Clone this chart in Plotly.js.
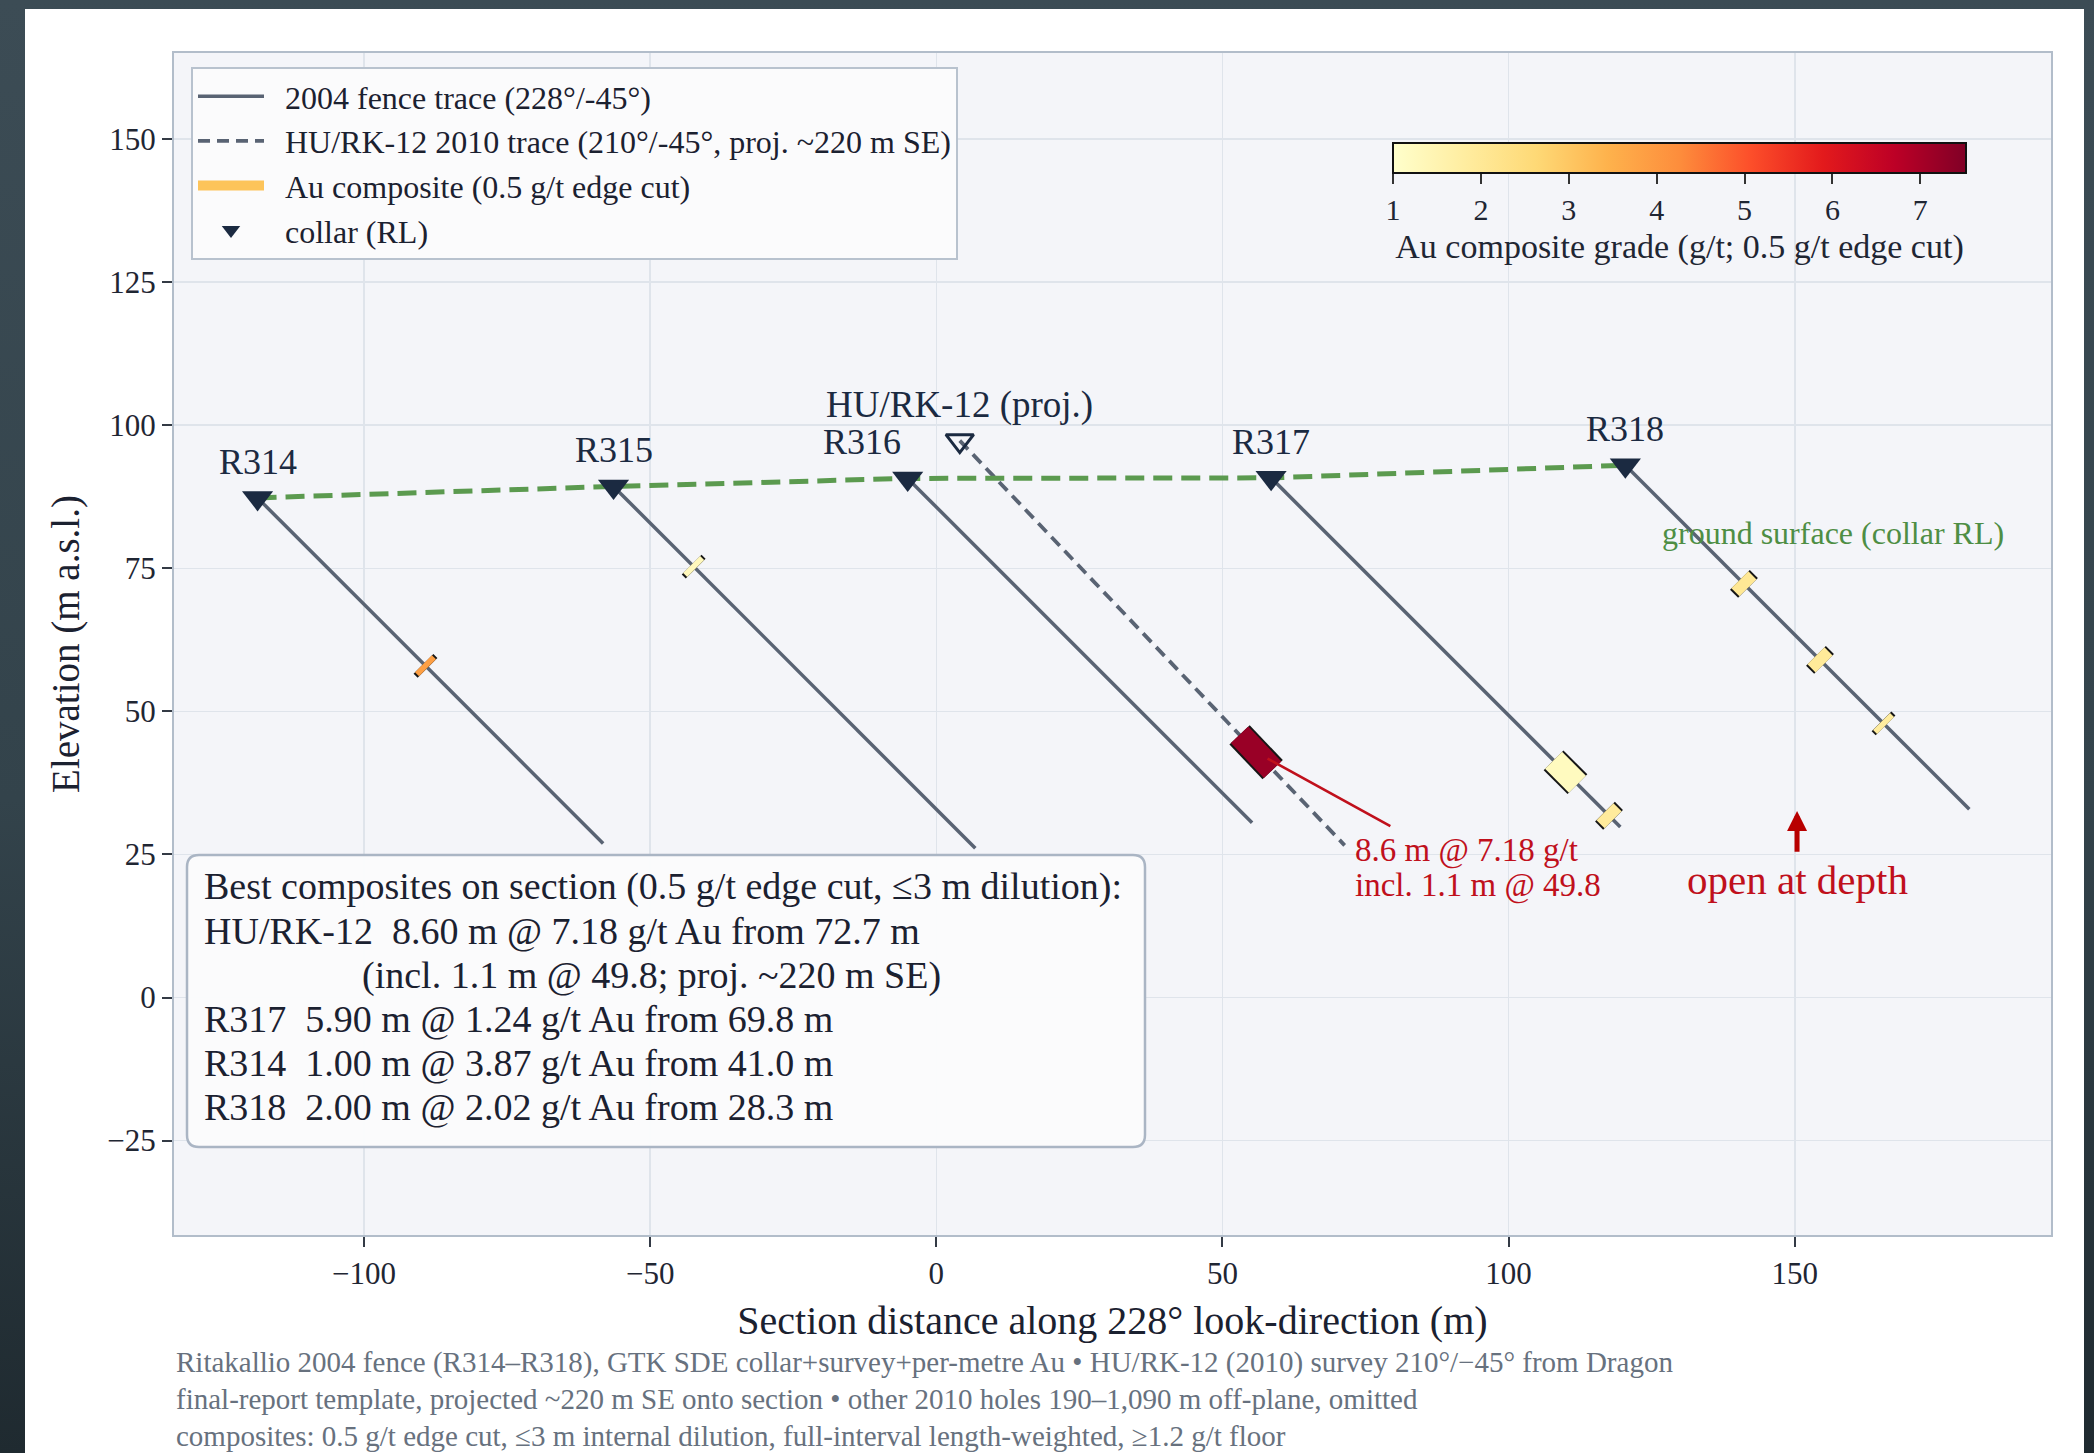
<!DOCTYPE html>
<html><head><meta charset="utf-8">
<script src="https://cdn.plot.ly/plotly-3.0.1.min.js"></script>
<style>
html,body{margin:0;padding:0;width:2094px;height:1453px;overflow:hidden;background:linear-gradient(180deg,#3c4c55 0%,#33434b 55%,#1f2a30 100%);}
#card{position:absolute;left:25px;top:9px;width:2059px;height:1444px;background:#ffffff;}
#chart{width:2059px;height:1444px;}
</style></head>
<body><div id="card"><div id="chart"></div></div>
<script>
// ---------------- data ----------------
const sectionAzimuth = 228;

const holeNames    = ['R314', 'R315', 'R316', 'R317', 'R318'];
const holeSectionX = [-118.6, -56.4, -5.0, 58.5, 120.4];
const holeCollarRL = [87.3, 89.3, 90.7, 90.8, 93.0];
const holeEOH      = [85.4, 89.4, 85.1, 86.3, 85.0];
const holeAzimuth  = [228, 228, 228, 228, 228];
const holeDip      = [-45, -45, -45, -45, -45];

const huName     = 'HU/RK-12';
const huSectionX = 4.1;
const huCollarRL = 97.3;
const huEOH      = 100.0;
const huAzimuth  = 210;
const huDip      = -45;

const compHole  = ['R314', 'R315', 'HU/RK-12', 'R317', 'R317', 'R318', 'R318', 'R318'];
const compFrom  = [41.0, 19.3, 72.7, 69.8, 82.5, 28.3, 47.1, 63.3];
const compTo    = [42.0, 20.3, 81.3, 75.7, 84.5, 30.3, 49.1, 64.3];
const compGrade = [3.87, 1.30, 7.18, 1.24, 1.90, 2.02, 1.95, 1.85];

const bestComposites = [2, 3, 0, 5];   // indices into the composite arrays, in box order
const bestNote = '(incl. 1.1 m @ 49.8; proj. ~220 m SE)';
const huInclude = 'incl. 1.1 m @ 49.8';

const gradeTicks = [1, 2, 3, 4, 5, 6, 7];
const gradeMin = 1, gradeMax = 7.52;

const legendNames = ['2004 fence trace (228\u00b0/-45\u00b0)',
                     'HU/RK-12 2010 trace (210\u00b0/-45\u00b0, proj. ~220 m SE)',
                     'Au composite (0.5 g/t edge cut)',
                     'collar (RL)'];

const captionLines = [
  'Ritakallio 2004 fence (R314\u2013R318), GTK SDE collar+survey+per-metre Au \u2022 HU/RK-12 (2010) survey 210\u00b0/\u221245\u00b0 from Dragon',
  'final-report template, projected ~220 m SE onto section \u2022 other 2010 holes 190\u20131,090 m off-plane, omitted',
  'composites: 0.5 g/t edge cut, \u22643 m internal dilution, full-interval length-weighted, \u22651.2 g/t floor'
];

// ---------------- styling ----------------
const FONT = 'Liberation Serif, DejaVu Serif, serif';
const NAVY = '#1b2a41';
const TRACE = '#596373';
const GREEN = '#5b9a4f';
const RED = '#c0101c';
const ylOrRd = [[0,'#ffffcc'],[0.125,'#ffeda0'],[0.25,'#fed976'],[0.375,'#feb24c'],[0.5,'#fd8d3c'],
                [0.625,'#fc4e2a'],[0.75,'#e31a1c'],[0.875,'#bd0026'],[1,'#800026']];

const W = 2059, H = 1444;
const M = {l:149, r:33, t:44, b:218};
const PW = W - M.l - M.r, PH = H - M.t - M.b;
const PX_PER_M = 5.723;
const xRange = [-133.2, -133.2 + PW / PX_PER_M];
const yRange = [-41.5, -41.5 + PH / PX_PER_M];
const px2x = px => (px - M.l) / PW;          // div px -> paper x
const py2y = py => 1 - (py - M.t) / PH;      // div px -> paper y
const GAP = '\u00a0\u00a0';

function hex2rgb(h){ return [1,3,5].map(i => parseInt(h.substr(i,2),16)); }
function gradeColor(g){
  const t = Math.max(0, Math.min(1, (g - gradeMin) / (gradeMax - gradeMin)));
  for (let i = 1; i < ylOrRd.length; i++){
    if (t <= ylOrRd[i][0]){
      const a = ylOrRd[i-1], b = ylOrRd[i];
      const f = (t - a[0]) / (b[0] - a[0]);
      const ca = hex2rgb(a[1]), cb = hex2rgb(b[1]);
      const c = ca.map((v,k) => Math.round(v + (cb[k]-v)*f));
      return 'rgb(' + c.join(',') + ')';
    }
  }
  return ylOrRd[ylOrRd.length-1][1];
}
// downhole depth -> section coordinates (straight hole, projected onto the section)
function downhole(cx, rl, az, dip, d){
  const r = Math.PI / 180;
  const h = d * Math.cos(dip*r) * Math.cos((az - sectionAzimuth)*r);
  const v = d * Math.sin(dip*r);
  return [cx + h, rl + v];
}
function holeGeom(name){
  if (name === huName) return [huSectionX, huCollarRL, huAzimuth, huDip];
  const i = holeNames.indexOf(name);
  return [holeSectionX[i], holeCollarRL[i], holeAzimuth[i], holeDip[i]];
}

const traces = [];

// 2004 fence traces
const fx = [], fy = [];
holeNames.forEach((n, i) => {
  const a = downhole(holeSectionX[i], holeCollarRL[i], holeAzimuth[i], holeDip[i], 0);
  const b = downhole(holeSectionX[i], holeCollarRL[i], holeAzimuth[i], holeDip[i], holeEOH[i]);
  fx.push(a[0], b[0], null); fy.push(a[1], b[1], null);
});
traces.push({type:'scatter', mode:'lines', x:fx, y:fy, name:GAP + legendNames[0],
  line:{color:TRACE, width:3.5}, hoverinfo:'skip', legendrank:1});

// HU/RK-12 projected trace
{
  const a = downhole(huSectionX, huCollarRL, huAzimuth, huDip, 0);
  const b = downhole(huSectionX, huCollarRL, huAzimuth, huDip, huEOH);
  traces.push({type:'scatter', mode:'lines', x:[a[0], b[0]], y:[a[1], b[1]], name:GAP + legendNames[1],
    line:{color:TRACE, width:3.8, dash:'12px,7px'}, hoverinfo:'skip', legendrank:2});
}

// ground surface (collar RL)
traces.push({type:'scatter', mode:'lines', x:holeSectionX, y:holeCollarRL, showlegend:false,
  line:{color:GREEN, width:5, dash:'19px,9px'}, hoverinfo:'skip'});

// composites
const cx = [], cy = [];
compHole.forEach((h, i) => {
  const g = holeGeom(h);
  const a = downhole(g[0], g[1], g[2], g[3], compFrom[i]);
  const b = downhole(g[0], g[1], g[2], g[3], compTo[i]);
  const m = downhole(g[0], g[1], g[2], g[3], (compFrom[i] + compTo[i]) / 2);
  cx.push(m[0]); cy.push(m[1]);
  traces.push({type:'scatter', mode:'lines', x:[a[0], b[0]], y:[a[1], b[1]], showlegend:false,
    line:{color:'#161616', width:28}, hoverinfo:'skip'});
  traces.push({type:'scatter', mode:'lines', x:[a[0], b[0]], y:[a[1], b[1]], showlegend:false,
    line:{color:gradeColor(compGrade[i]), width:24}, hoverinfo:'skip'});
});

// legend proxy for composites
traces.push({type:'scatter', mode:'lines', x:[null], y:[null], name:GAP + legendNames[2],
  line:{color:'#fdc45a', width:18}, hoverinfo:'skip', legendrank:3});

// collars
traces.push({type:'scatter', mode:'markers', x:holeSectionX, y:holeCollarRL, name:GAP + legendNames[3],
  marker:{symbol:'triangle-down', size:27, color:NAVY, line:{width:0}}, hoverinfo:'skip', legendrank:4});
traces.push({type:'scatter', mode:'markers', x:[huSectionX], y:[huCollarRL], showlegend:false,
  marker:{symbol:'triangle-down-open', size:24, color:NAVY, line:{width:3, color:NAVY}}, hoverinfo:'skip'});

// colour scale carrier (composite centres, invisible)
traces.push({type:'scatter', mode:'markers', x:cx, y:cy, showlegend:false, hoverinfo:'skip',
  marker:{size:1, opacity:0, color:compGrade, cmin:gradeMin, cmax:gradeMax, colorscale:ylOrRd, showscale:true,
    colorbar:{orientation:'h', x:px2x(1368), xanchor:'left', y:py2y(134), yanchor:'top',
      len:573, lenmode:'pixels', thickness:30, thicknessmode:'pixels', xpad:0, ypad:0,
      outlinewidth:2, outlinecolor:'#111', tickvals:gradeTicks, ticks:'outside', ticklen:10, tickwidth:2,
      tickcolor:'#333', tickfont:{family:FONT, size:30, color:'#1f2633'},
      title:{text:'Au composite grade (g/t; 0.5 g/t edge cut)', side:'bottom', font:{family:FONT, size:34, color:'#1f2633'}}}}});

// ---------------- annotations ----------------
const ann = [];
holeNames.forEach((n, i) => {
  ann.push({x:holeSectionX[i], y:holeCollarRL[i], text:n, showarrow:false, yshift:36,
    xshift: n === 'R316' ? -46 : 0, font:{family:FONT, size:36, color:NAVY}});
});
ann.push({x:huSectionX, y:huCollarRL, text:huName + ' (proj.)', showarrow:false, yshift:36,
  font:{family:FONT, size:37, color:NAVY}});
ann.push({x:156.7, y:81.1, text:'ground surface (collar RL)', showarrow:false,
  font:{family:FONT, size:32, color:'#4e8e44'}});

// callout to HU/RK-12 composite
const huIdx = compHole.indexOf(huName);
ann.push({x:cx[huIdx] + 2.0, y:cy[huIdx] - 1.1, ax:79.6, ay:29.8, axref:'x', ayref:'y', text:'',
  showarrow:true, arrowhead:0, arrowwidth:2.6, arrowcolor:RED});
ann.push({x:72.8, y:25.6, xanchor:'left', yanchor:'middle', align:'left', showarrow:false,
  text:(compTo[huIdx]-compFrom[huIdx]).toFixed(1) + ' m @ ' + compGrade[huIdx].toFixed(2) + ' g/t',
  font:{family:FONT, size:33, color:RED}});
ann.push({x:72.8, y:19.6, xanchor:'left', yanchor:'middle', align:'left', showarrow:false,
  text:huInclude, font:{family:FONT, size:33, color:RED}});

// open at depth
ann.push({x:150.4, y:32.6, ax:150.4, ay:25.2, axref:'x', ayref:'y', text:'', showarrow:true,
  arrowhead:2, arrowsize:0.8, arrowwidth:5, arrowcolor:'#b80000'});
ann.push({x:150.4, y:20.5, text:'open at depth', showarrow:false, font:{family:FONT, size:41, color:RED}});

// best composites box
const boxLines = [
  {t:'Best composites on section (0.5 g/t edge cut, \u22643 m dilution):', indent:0}
];
bestComposites.forEach(i => {
  boxLines.push({t:compHole[i] + GAP + (compTo[i]-compFrom[i]).toFixed(2) + ' m @ ' +
    compGrade[i].toFixed(2) + ' g/t Au from ' + compFrom[i].toFixed(1) + ' m', indent:0});
  if (compHole[i] === huName) boxLines.push({t:bestNote, indent:158});
});
const boxL = 162, boxR = 1120, boxT = 846, boxB = 1138, lineY0 = 877.8, lineDY = 44.1;
boxLines.forEach((ln, k) => {
  ann.push({xref:'paper', yref:'paper', x:px2x(177 + ln.indent), y:py2y(lineY0 + k*lineDY),
    xanchor:'left', yanchor:'middle', align:'left', showarrow:false, text:ln.t,
    font:{family:FONT, size:38, color:'#1b2130'}});
});

// caption
captionLines.forEach((c, k) => {
  ann.push({xref:'paper', yref:'paper', x:px2x(149), y:py2y(1353 + k*37), xanchor:'left', yanchor:'middle',
    align:'left', showarrow:false, text:c, font:{family:FONT, size:29, color:'#67717e'}});
});

// rounded box shape
function roundRect(x0, y0, x1, y1, r){
  const X = v => px2x(v).toFixed(5), Y = v => py2y(v).toFixed(5);
  return 'M' + X(x0+r) + ',' + Y(y0) + ' L' + X(x1-r) + ',' + Y(y0) + ' Q' + X(x1) + ',' + Y(y0) + ' ' + X(x1) + ',' + Y(y0+r) +
    ' L' + X(x1) + ',' + Y(y1-r) + ' Q' + X(x1) + ',' + Y(y1) + ' ' + X(x1-r) + ',' + Y(y1) +
    ' L' + X(x0+r) + ',' + Y(y1) + ' Q' + X(x0) + ',' + Y(y1) + ' ' + X(x0) + ',' + Y(y1-r) +
    ' L' + X(x0) + ',' + Y(y0+r) + ' Q' + X(x0) + ',' + Y(y0) + ' ' + X(x0+r) + ',' + Y(y0) + ' Z';
}
const shapes = [
  {type:'path', xref:'paper', yref:'paper', path:roundRect(boxL, boxT, boxR, boxB, 12),
   fillcolor:'rgba(251,251,252,0.97)', line:{color:'#aab5c4', width:2.5}, layer:'above'}
];

const layout = {
  width:W, height:H, margin:M,
  paper_bgcolor:'#ffffff', plot_bgcolor:'#f4f5f9',
  font:{family:FONT, color:'#1f2633'},
  showlegend:true,
  legend:{x:px2x(166), y:py2y(58), xanchor:'left', yanchor:'top', bgcolor:'#fbfbfc',
    bordercolor:'#b8c2ce', borderwidth:2, font:{family:FONT, size:32, color:'#1b2130'},
    itemwidth:66, tracegroupgap:0},
  xaxis:{range:xRange, dtick:50, tick0:0, showgrid:true, gridcolor:'#dfe4eb', gridwidth:1.5, zeroline:false,
    showline:true, mirror:true, linecolor:'#b2bdca', linewidth:2, ticks:'outside', ticklen:10, tickwidth:2,
    tickcolor:'#333a45', tickfont:{family:FONT, size:31, color:'#1f2633'},
    title:{text:'Section distance along 228\u00b0 look-direction (m)', font:{family:FONT, size:40, color:'#1b2130'}, standoff:16}},
  yaxis:{range:yRange, dtick:25, tick0:0, showgrid:true, gridcolor:'#dfe4eb', gridwidth:1.5, zeroline:false,
    showline:true, mirror:true, linecolor:'#b2bdca', linewidth:2, ticks:'outside', ticklen:10, tickwidth:2,
    tickcolor:'#333a45', tickfont:{family:FONT, size:31, color:'#1f2633'},
    title:{text:'Elevation (m a.s.l.)', font:{family:FONT, size:39, color:'#1b2130'}, standoff:16}},
  annotations:ann,
  shapes:shapes
};

Plotly.newPlot('chart', traces, layout, {displayModeBar:false, staticPlot:true});
</script>
</body></html>
